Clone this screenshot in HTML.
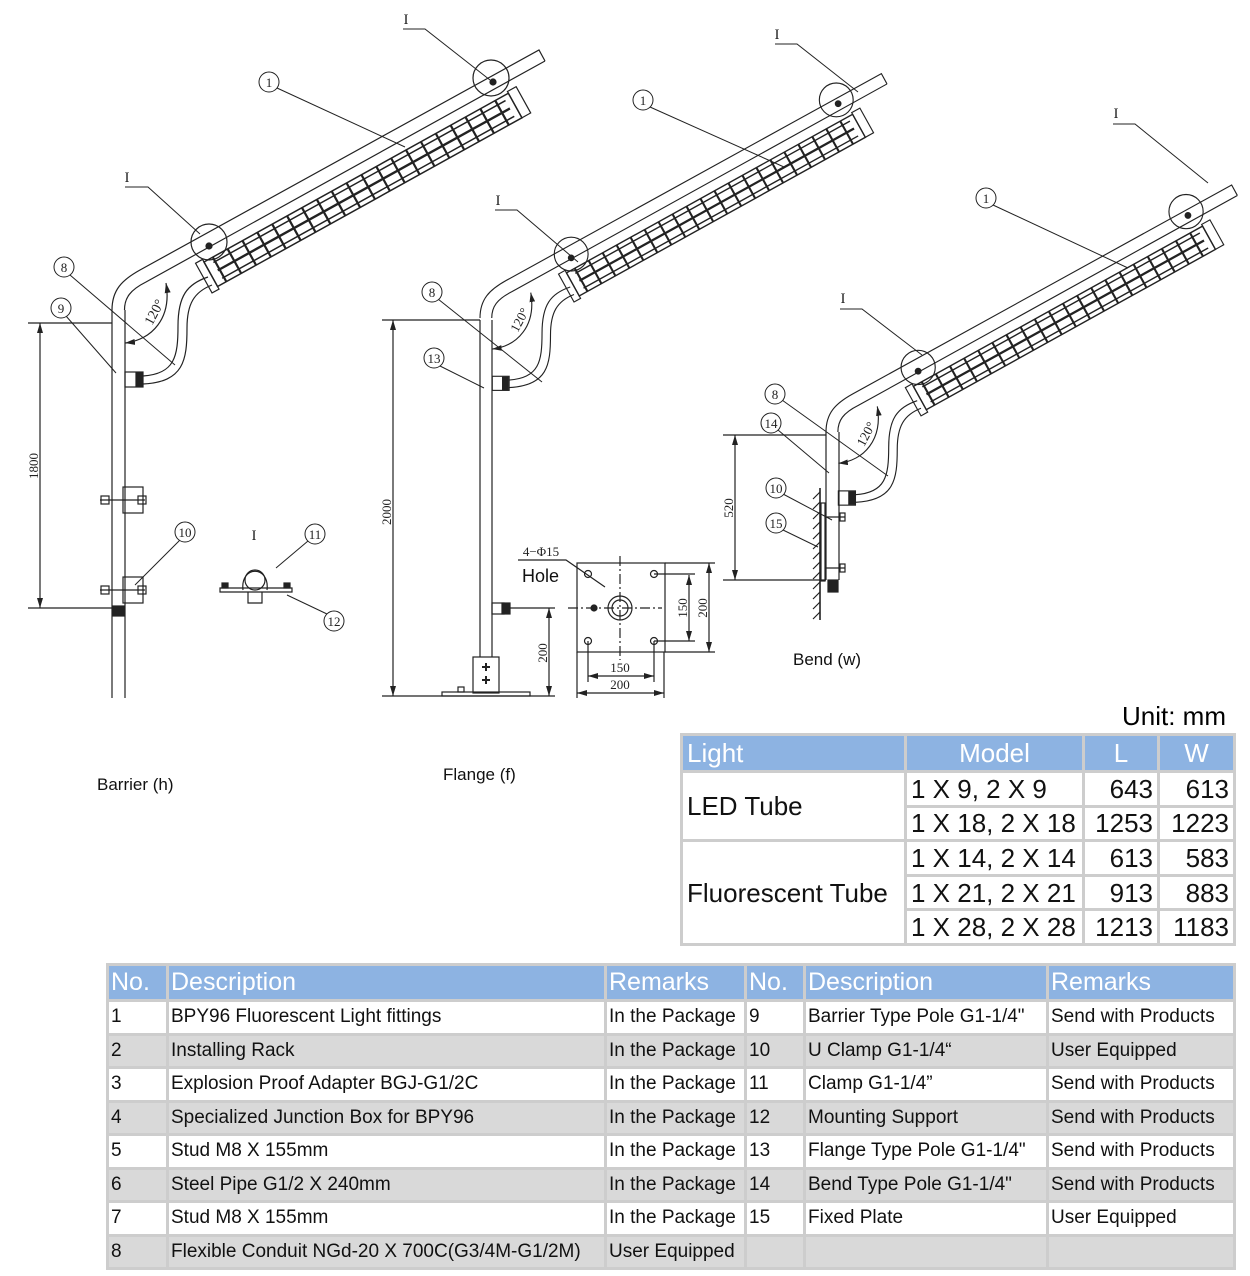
<!DOCTYPE html>
<html><head><meta charset="utf-8"><style>
body{margin:0;background:#fff;width:1250px;height:1276px;position:relative;overflow:hidden;font-family:"Liberation Sans",sans-serif}
svg{position:absolute;left:0;top:0}
table{position:absolute;border-collapse:separate;border-spacing:3px;background:#cdcdcd}
td{padding:0 4px;white-space:nowrap;background:#fff;color:#111}
th{padding:0 4px;background:#8db3e2;color:#fff;font-weight:normal;text-align:left;white-space:nowrap}
#t1{left:680px;top:733px;font-size:26px}
#t1 th{height:34px}
#t1 td{height:31.6px;line-height:30px}
#t1 .r{text-align:right}
#t2{left:106px;top:963px;font-size:19px}
#t2 th{height:33px;font-size:25px;padding:0 2px}
#t2 td{height:30.5px;padding:0 2px}
#t2 tr.g td{background:#d9d9d9}
#unit{position:absolute;left:1122px;top:701px;font-size:26px}
</style></head><body>
<svg width="1250" height="1276" viewBox="0 0 1250 1276" font-family="Liberation Serif, serif">
<defs>
<marker id="ar" viewBox="0 0 10 6" refX="10" refY="3" markerWidth="10" markerHeight="6" markerUnits="userSpaceOnUse" orient="auto-start-reverse"><path d="M0,0L10,3L0,6z" fill="#222"/></marker>
<g id="head" fill="none" stroke="#222" stroke-width="1.2">
<path d="M0,0 C0,-20 10,-30 28,-40 L427,-260 L433,-249"/>
<path d="M12.5,0 C12.5,-12 18,-20 34,-28 L433,-249"/>
<g transform="translate(92,-48) rotate(-29)">
<rect x="0" y="0" width="348" height="28" stroke-width="1.5"/>
<rect x="-8" y="-3" width="8" height="34"/>
<rect x="348" y="-2" width="10" height="30"/>
<path d="M8,5H342M8,23H342" stroke-width="1.5"/>
<path d="M8,14H342" stroke-width="2.4"/>
<path stroke-width="2.2" d="M10,0V28M27,0V28M44,0V28M61,0V28M78,0V28M95,0V28M112,0V28M129,0V28M146,0V28M163,0V28M180,0V28M197,0V28M214,0V28M231,0V28M248,0V28M265,0V28M282,0V28M299,0V28M316,0V28M333,0V28"/>
</g>
<circle cx="97" cy="-68" r="18"/>
<circle cx="379" cy="-232" r="18"/>
<circle cx="97" cy="-64" r="3" fill="#222"/>
<circle cx="381" cy="-228" r="3" fill="#222"/>
<rect x="13" y="62" width="18" height="15"/>
<rect x="24" y="63" width="6" height="13" fill="#222"/>
<path d="M31,66 C63,64 66,46 66,16 C66,-14 75,-26 96,-33"/>
<path d="M31,74 C72,72 75,50 75,18 C75,-6 82,-18 100,-25"/>
<path d="M13,33 C40,30 60,8 54,-27" marker-start="url(#ar)" marker-end="url(#ar)"/>
<text x="0" y="0" transform="translate(40,16) rotate(-62)" font-size="14" fill="#222" stroke="none">120°</text>
</g>
</defs>

<g fill="none" stroke="#222" stroke-width="1.2">
<use href="#head" transform="translate(112,310)"/>
<path d="M112,310V698M125,310V698"/>
<rect x="123" y="487" width="20" height="26"/>
<path d="M100,500H145"/><rect x="101" y="496" width="8" height="8"/><rect x="138" y="496" width="8" height="8"/>
<rect x="123" y="577" width="20" height="26"/>
<path d="M100,590H145"/><rect x="101" y="586" width="8" height="8"/><rect x="138" y="586" width="8" height="8"/>
<rect x="113" y="606" width="11" height="10" fill="#222"/>
<path d="M28,323H112M28,608H112"/>
<path d="M40,323V608" marker-start="url(#ar)" marker-end="url(#ar)"/>
<path d="M243,590 C240,565 270,565 267,590"/>
<circle cx="255" cy="580" r="10"/>
<path d="M220,588H292V592H220Z"/>
<path d="M248,592V603H262V592"/>
<rect x="222" y="583" width="6" height="5" fill="#222"/><rect x="284" y="583" width="6" height="5" fill="#222"/>

<use href="#head" transform="translate(480,318) scale(0.94)"/>
<path d="M480,320V657M492,320V657"/>
<rect x="473" y="657" width="26" height="36"/>
<rect x="442" y="692" width="88" height="4"/>
<rect x="458" y="687" width="6" height="5"/>
<path d="M382,696H555"/>
<rect x="492" y="603" width="12" height="11"/><rect x="502" y="603" width="8" height="11" fill="#222"/>
<path d="M510,608H555"/>
<path d="M549,608V696" marker-start="url(#ar)" marker-end="url(#ar)"/>
<path d="M382,320H480"/>
<path d="M393,320V696" marker-start="url(#ar)" marker-end="url(#ar)"/>
<path d="M482,667H490M486,663V671M482,680H490M486,676V684" stroke-width="2"/>
<rect x="577" y="563" width="88" height="89"/>
<path d="M620,556V660M568,608H662" stroke-dasharray="10,3,2,3"/>
<circle cx="620" cy="608" r="12"/><circle cx="620" cy="608" r="8"/>
<circle cx="588" cy="574" r="3.5"/><circle cx="654" cy="574" r="3.5"/><circle cx="588" cy="641" r="3.5"/><circle cx="654" cy="641" r="3.5"/>
<circle cx="594" cy="608" r="3" fill="#222"/>
<path d="M654,574H695M654,641H695M665,563H715M665,652H715"/>
<path d="M689,575V641" marker-start="url(#ar)" marker-end="url(#ar)"/>
<path d="M709,563V652" marker-start="url(#ar)" marker-end="url(#ar)"/>
<path d="M588,641V682M654,641V682M577,652V698M664,652V698"/>
<path d="M588,676H654" marker-start="url(#ar)" marker-end="url(#ar)"/>
<path d="M577,693H664" marker-start="url(#ar)" marker-end="url(#ar)"/>
<path d="M518,560H566L605,587" />

<use href="#head" transform="translate(826,432) scale(0.95)"/>
<path d="M826,432V580M839,432V580"/>
<rect x="828" y="580" width="10" height="12" fill="#222"/>
<path d="M820,488V620" stroke-width="1.6"/>
<path d="M820,492l-7,7M820,502l-7,7M820,512l-7,7M820,522l-7,7M820,532l-7,7M820,542l-7,7M820,552l-7,7M820,562l-7,7M820,572l-7,7M820,582l-7,7M820,592l-7,7M820,602l-7,7M820,612l-7,7"/>
<rect x="821" y="503" width="4" height="78"/>
<path d="M825,517H845M825,568H845"/><rect x="840" y="513" width="5" height="8"/><rect x="840" y="564" width="5" height="8"/>
<path d="M723,435H826M723,580H826"/>
<path d="M735,435V580" marker-start="url(#ar)" marker-end="url(#ar)"/>

<g stroke-width="1">
<path d="M125,187H148L200,234M403,29H425L490,80M277,88L405,147M70,275L175,365M66,316L116,373M180,540L135,585M308,541L276,568M327,614L287,595"/>
<path d="M495,210H517L578,262M775,44H797L858,92M650,107L784,167M438,299L542,382M440,366L484,388"/>
<path d="M840,309H862L922,355M1113,124H1135L1208,183M993,205L1128,268M782,400L888,476M778,430L829,473M783,494L832,520M783,530L818,547"/>
</g>
</g>

<g fill="#fff" stroke="#222" stroke-width="1">
<circle cx="269" cy="82" r="10"/><circle cx="64" cy="267" r="10"/><circle cx="61" cy="308" r="10"/><circle cx="185" cy="532" r="10"/><circle cx="315" cy="534" r="10"/><circle cx="334" cy="621" r="10"/>
<circle cx="643" cy="100" r="10"/><circle cx="432" cy="292" r="10"/><circle cx="434" cy="358" r="10"/>
<circle cx="986" cy="198" r="10"/><circle cx="775" cy="394" r="10"/><circle cx="771" cy="423" r="10"/><circle cx="776" cy="488" r="10"/><circle cx="776" cy="523" r="10"/>
</g>
<g font-size="13" fill="#222" text-anchor="middle">
<text x="269" y="87">1</text><text x="64" y="272">8</text><text x="61" y="313">9</text><text x="185" y="537">10</text><text x="315" y="539">11</text><text x="334" y="626">12</text>
<text x="643" y="105">1</text><text x="432" y="297">8</text><text x="434" y="363">13</text>
<text x="986" y="203">1</text><text x="775" y="399">8</text><text x="771" y="428">14</text><text x="776" y="493">10</text><text x="776" y="528">15</text>
<text x="127" y="182" font-size="15">I</text><text x="406" y="24" font-size="15">I</text><text x="254" y="540" font-size="15">I</text>
<text x="498" y="205" font-size="15">I</text><text x="777" y="39" font-size="15">I</text>
<text x="843" y="303" font-size="15">I</text><text x="1116" y="118" font-size="15">I</text>
<text transform="translate(38,466) rotate(-90)">1800</text>
<text transform="translate(391,512) rotate(-90)">2000</text>
<text transform="translate(547,653) rotate(-90)">200</text>
<text transform="translate(733,508) rotate(-90)">520</text>
<text transform="translate(687,608) rotate(-90)">150</text>
<text transform="translate(707,608) rotate(-90)">200</text>
<text x="620" y="672">150</text><text x="620" y="689">200</text>
<text x="541" y="556" font-size="13">4−Φ15</text>
</g>
<g font-family="Liberation Sans, sans-serif" fill="#111">
<text x="522" y="582" font-size="18">Hole</text>
<text x="97" y="790" font-size="17">Barrier (h)</text>
<text x="443" y="780" font-size="17">Flange (f)</text>
<text x="793" y="665" font-size="17">Bend (w)</text>
</g>
</svg>

<div id="unit">Unit: mm</div>
<table id="t1">
<tr><th style="width:213px">Light</th><th style="width:167px;text-align:center">Model</th><th style="width:64px;text-align:center">L</th><th style="width:65px;text-align:center">W</th></tr>
<tr><td rowspan="2">LED Tube</td><td>1 X 9, 2 X 9</td><td class="r">643</td><td class="r">613</td></tr>
<tr><td>1 X 18, 2 X 18</td><td class="r">1253</td><td class="r">1223</td></tr>
<tr><td rowspan="3">Fluorescent Tube</td><td>1 X 14, 2 X 14</td><td class="r">613</td><td class="r">583</td></tr>
<tr><td>1 X 21, 2 X 21</td><td class="r">913</td><td class="r">883</td></tr>
<tr><td>1 X 28, 2 X 28</td><td class="r">1213</td><td class="r">1183</td></tr>
</table>
<table id="t2">
<tr><th style="width:53px">No.</th><th style="width:431px">Description</th><th style="width:133px">Remarks</th><th style="width:52px">No.</th><th style="width:236px">Description</th><th style="width:180px">Remarks</th></tr>
<tr><td>1</td><td>BPY96 Fluorescent Light fittings</td><td>In the Package</td><td>9</td><td>Barrier Type Pole G1-1/4"</td><td>Send with Products</td></tr>
<tr class="g"><td>2</td><td>Installing Rack</td><td>In the Package</td><td>10</td><td>U Clamp G1-1/4“</td><td>User Equipped</td></tr>
<tr><td>3</td><td>Explosion Proof Adapter BGJ-G1/2C</td><td>In the Package</td><td>11</td><td>Clamp G1-1/4”</td><td>Send with Products</td></tr>
<tr class="g"><td>4</td><td>Specialized Junction Box for BPY96</td><td>In the Package</td><td>12</td><td>Mounting Support</td><td>Send with Products</td></tr>
<tr><td>5</td><td>Stud M8 X 155mm</td><td>In the Package</td><td>13</td><td>Flange Type Pole G1-1/4"</td><td>Send with Products</td></tr>
<tr class="g"><td>6</td><td>Steel Pipe G1/2 X 240mm</td><td>In the Package</td><td>14</td><td>Bend Type Pole G1-1/4"</td><td>Send with Products</td></tr>
<tr><td>7</td><td>Stud M8 X 155mm</td><td>In the Package</td><td>15</td><td>Fixed Plate</td><td>User Equipped</td></tr>
<tr class="g"><td>8</td><td>Flexible Conduit NGd-20 X 700C(G3/4M-G1/2M)</td><td>User Equipped</td><td></td><td></td><td></td></tr>
</table>
</body></html>
